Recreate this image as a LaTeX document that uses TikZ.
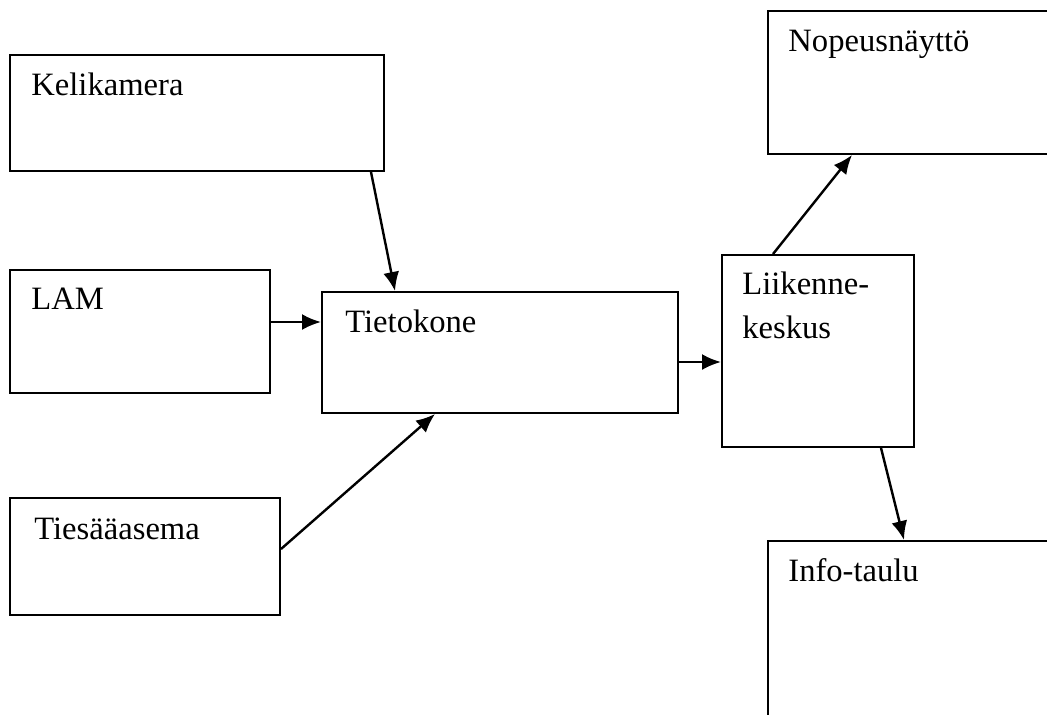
\documentclass[tikz,border=0pt]{standalone}
\usepackage{fontspec}
\setmainfont{Liberation Serif}
\usetikzlibrary{arrows.meta,fit,calc}

\tikzset{
    box/.style={draw,line width=1pt,inner sep=0pt,fit={#1}},
    lbl/.style={anchor=base west,inner sep=0pt,align=left,
        font=\fontsize{16.3}{22}\selectfont},
    arr/.style={line width=1.2pt,-{Latex[length=9.5pt,width=8pt]}}
}

\begin{document}
\begin{tikzpicture}[x=0.5pt,y=-0.5pt]
    \clip (0,0) rectangle (1047,714);
    %% boxes
    \node[box={(10,55) (384,171)}]    (kam)  {};
    \node[box={(10,270) (270,393)}]   (lam)  {};
    \node[box={(10,498) (280,615)}]   (asema) {};
    \node[box={(322,292) (678,413)}]  (tk)   {};
    \node[box={(722,255) (914,447)}]  (lk)   {};
    \node[box={(768,11) (1080,154)}]  (nop)  {};
    \node[box={(768,541) (1080,760)}] (info) {};
    %% texts
    \node[lbl] (kamtxt)   at ($(kam.north west)+(22,41)$)   {Kelikamera};
    \node[lbl] (lamtxt)   at ($(lam.north west)+(22,40)$)   {LAM};
    \node[lbl] (asematxt) at ($(asema.north west)+(25,42)$) {Tiesääasema};
    \node[lbl] (tktxt)    at ($(tk.north west)+(24,41)$)    {Tietokone};
    \node[lbl] (lktxt)    at ($(lk.north west)+(21,84)$)    {Liikenne-\\keskus};
    \node[lbl] (noptxt)   at ($(nop.north west)+(21,41)$)   {Nopeusnäyttö};
    \node[lbl] (infotxt)  at ($(info.north west)+(21,41)$)  {Info-taulu};
    %% connectors
    \draw[arr] ($(kam.south west)+(362,0)$) -- ($(tk.north west)+(74,0)$);
    \draw[arr] ($(lam.north east)+(0,53)$) -- ($(tk.north west)+(0,31)$);
    \draw[arr] ($(asema.north east)+(0,52)$) -- ($(tk.south west)+(114,0)$);
    \draw[arr] ($(tk.north east)+(0,71)$) -- ($(lk.north west)+(0,108)$);
    \draw[arr] ($(lk.north west)+(52,0)$) -- ($(nop.south west)+(85,0)$);
    \draw[arr] ($(lk.south west)+(160,0)$) -- ($(info.north west)+(137,0)$);
\end{tikzpicture}
\end{document}
